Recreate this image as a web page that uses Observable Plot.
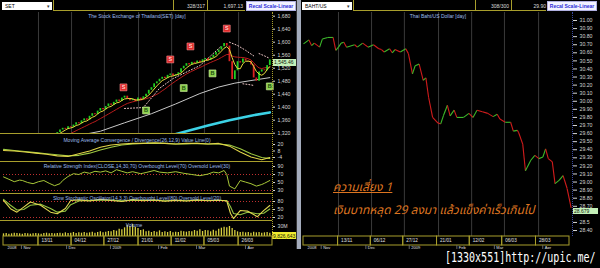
<!DOCTYPE html>
<html><head><meta charset="utf-8">
<script src="https://cdn.jsdelivr.net/npm/d3@7"></script>
<script src="https://cdn.jsdelivr.net/npm/@observablehq/plot@0.6"></script>
<style>
html,body{margin:0;padding:0;background:#000;}
#root{position:relative;width:600px;height:268px;overflow:hidden;background:#000;font-family:"Liberation Sans",Arial,sans-serif;}
#root svg{position:absolute;}
.t{position:absolute;white-space:nowrap;font-size:5px;line-height:6px;}
.box{position:absolute;box-sizing:border-box;}
</style></head><body><div id="root"></div>
<script>
// ---------- DATA ----------
const gridI = [13, 25.3, 37.5, 50.2, 62.5, 74.7, 87.4];
const setDates = ["13/11", "04/12", "27/12", "21/01", "11/02", "05/03", "26/03"];
const bahtDates = ["13/11", "06/12", "27/12", "21/01", "12/02", "06/03", "28/03"];
const monthPos = [1.5, 7.4, 24.2, 40.5, 58.4, 72.5, 90.7];
const monthLbl = ["2008", "Nov", "Dec", "2009", "Feb", "Mar", "Apr"];

const setClose = [1300,1305,1298,1302,1310,1306,1315,1308,1300,1296,
  1290,1285,1292,1288,1295,1302,1300,1310,1316,1312,
  1322,1330,1335,1332,1340,1338,1345,1352,1349,1358,
  1364,1360,1372,1380,1377,1388,1396,1392,1402,1410,
  1406,1415,1422,1418,1428,1434,1426,1420,1424,1418,
  1428,1424,1432,1440,1452,1460,1472,1478,1486,1492,
  1488,1498,1502,1496,1500,1506,1518,1526,1534,1530,
  1538,1535,1542,1538,1546,1550,1544,1552,1560,1568,
  1576,1586,1596,1588,1540,1485,1512,1540,1536,1548,
  1542,1540,1530,1490,1480,1508,1515,1512,1528,1545.46];
const setVolM = [8,9,7,8,10,9,8,7,9,8, 7,8,9,8,7,9,10,8,9,8,
  9,10,8,11,9,10,12,9,11,10, 12,10,11,13,10,12,14,11,13,15,
  14,18,16,22,20,26,34,30,36,28, 24,18,20,14,16,12,15,13,17,12,
  14,12,15,11,13,12,16,14,13,15, 14,18,16,20,15,18,17,14,19,16,
  22,25,28,26,30,24,18,14,12,13, 11,12,10,13,11,12,10,11,12,9.826643];
const priceTicks = [1320,1360,1400,1440,1480,1520,1560,1600,1640,1680];

const grayI = [20,36,45,55,64,73,80,86,92,99];
const grayV = [1300,1326,1352,1380,1410,1442,1462,1474,1482,1491];
const cyanI = [60,68,76,84,92,99];
const cyanV = [1308,1326,1344,1360,1374,1384];
const sarSeg = [1,1,1,1,1,1, 2,2,2,2, 3,3,3, 4,4,4];
const sarI = [45,52,58,63,73,81, 84,87,90,93, 89,91,93, 95,97,99];
const sarV = [1396,1399,1458,1488,1528,1588, 1600,1590,1575,1558, 1472,1470,1467, 1565,1558,1550];
const sigType = ["S","S","S","S","B","B","B","B"];
const sigI = [44.6, 62, 69.5, 83, 53, 67, 77.7, 99];
const sigV = [1461, 1547, 1587, 1642, 1390, 1459, 1504, 1464];

const macdI = [0,4,8,12,16,20,24,28,32,36,40,44,48,52,56,60,64,68,72,76,80,84,88,92,96,99];
const macdV = [9,8,6,4,2,-1,-2,3,8,15,19,21,22,22,23,22,21,22,22,21,22,17,6,-3,-8,-4];
const macdS = [11,9,7,5,3,1,-1,0,4,10,15,19,21,22,22,22,21,21,22,21,21,19,12,3,-4,-6];
const macdTicks = [20, 8, -4];

const rsiI = [0,2,4,6,7,9,11,13,15,17,19,21,22,24,26,28,30,32,34,36,38,40,42,44,46,48,51,53,56,58,61,64,67,70,73,76,78,80,82,83,84,86,88,90,92,94,96,97,99];
const rsiV = [64,58,52,56,55,50,47,52,55,48,42,47,55,65,72,70,76,73,78,76,79,74,82,78,74,77,72,75,80,76,74,77,73,70,67,71,76,74,80,70,41,34,55,51,47,41,45,48,55];
const rsiTicks = [90, 70, 50, 30];

const stI = [0,2.6,5,7.5,10,13.8,17.5,20,23,25,28,32,36,40,44,48,52,56,60,64,68,72,76,80,83,84.4,85.5,88,90.7,94.4,96.7,99];
const stK = [84,53,40,59,78,66,40,34,54,84,86,82,88,84,80,87,83,86,81,85,82,86,83,85,82,35,16,46,44,23,46,65];
const stD = [88,66,48,50,66,70,54,40,44,68,82,84,85,85,83,84,85,84,83,84,83,84,84,84,84,60,35,30,40,34,36,52];
const stTicks = [80, 50, 20];

const bahtDay = [0,2,3,4,6,7,9,11,12,13,14,15,16,19,20,22,24,26,28,29,30,32,33,34,36,38,39,
  40.5,41.5,43,44.5,45.5,46.5,48,50,51,52,53.5,54.5,56,57,59.5,61.5,63,64.5,66.5,68.5,70.5,72,73,75,77,78,79.5,80,81.5,82.5,84.5,86,87.5,89,90,91,92.5,93.5,95,96.5,98,99.5];
const bahtRate = [30.71,30.76,30.69,30.72,30.67,30.77,30.79,30.79,30.63,30.67,30.72,30.73,30.67,30.70,30.67,30.72,30.67,30.70,30.65,30.64,30.61,30.65,30.60,30.64,30.61,30.65,30.59,
  30.34,30.44,30.46,30.26,30.29,30.05,29.80,29.73,29.72,29.82,29.95,29.82,29.89,29.80,29.80,29.85,29.80,29.89,29.87,29.85,29.81,29.84,29.78,29.74,29.74,29.63,29.64,29.61,29.47,29.14,29.27,29.33,29.29,29.31,29.41,29.29,29.25,28.98,29.02,29.08,28.92,28.679];
// 28.60 sits under the current-value label in the reference, so it is not shown
const bahtTicks = [28.4,28.5,28.7,28.8,28.9,29.0,29.1,29.2,29.3,29.4,29.5,29.6,29.7,29.8,29.9,30.0,30.1,30.2,30.3,30.4,30.5,30.6,30.7,30.8,30.9,31.0];

// ---------- HELPERS ----------
const root = document.getElementById("root");
const YEL = "#a89e2c", GRN = "#22cc22", RED = "#dd2222";
function put(el, left, top) { el.style.left = left + "px"; el.style.top = top + "px"; root.appendChild(el); return el; }
function box(left, top, w, h, css) { const d = document.createElement("div"); d.className = "box"; d.style.cssText += `width:${w}px;height:${h}px;` + (css || ""); return put(d, left, top); }
function txt(left, top, s, css) { const d = document.createElement("div"); d.className = "t"; d.textContent = s; d.style.cssText += css || ""; return put(d, left, top); }
const baseStyle = {background: "transparent", color: "#d4d4d4", fontSize: "5.2px", fontFamily: "Liberation Sans, Arial, sans-serif", overflow: "visible"};
function panel(o) {
  const p = Plot.plot({
    width: o.width ?? 297, height: o.height, marginLeft: 3, marginRight: o.mr ?? 25, marginTop: 0, marginBottom: 0,
    x: {domain: [0, 100], axis: null}, y: {domain: o.domain, axis: null},
    style: baseStyle, marks: o.marks
  });
  put(p, o.left ?? 0, o.top);
  return p;
}
const axis = (ticks, fmt, extra) => Plot.axisY(ticks, Object.assign({anchor: "right", tickSize: 2, tickPadding: 3, tickFormat: fmt, label: null, color: "#d4d4d4"}, extra || {}));
const pts = (xs, ys, extra) => xs.map((x, j) => Object.assign({x, y: ys[j]}, extra ? extra(j) : {}));

// ---------- LEFT: SET ----------
const bars = setClose.map((c, i) => ({i, o: i === 0 ? c : setClose[i - 1], c, v: setVolM[i]}));
const sigs = sigType.map((t, j) => ({t, x: sigI[j], y: sigV[j]}));
const sar = pts(sarI, sarV, j => ({s: sarSeg[j]}));
const fmtComma = d3.format(",");

const price = panel({top: 12, height: 121, domain: [1319.1, 1691.4], marks: [
  Plot.ruleX(gridI, {stroke: "#3a3a3a"}),
  Plot.line(pts(cyanI, cyanV), {x: "x", y: "y", stroke: "#3cd2e6", strokeWidth: 2.6, clip: true}),
  Plot.line(pts(grayI, grayV), {x: "x", y: "y", stroke: "#c8c8c8", strokeWidth: 1, clip: true}),
  Plot.lineY(bars, Plot.windowY({k: 12, anchor: "end"}, {x: "i", y: "c", stroke: "#b81c1c", strokeWidth: 1, clip: true})),
  Plot.line(sar, {x: "x", y: "y", z: "s", stroke: "#f0c8c8", strokeDasharray: "1,2", strokeWidth: 1, clip: true}),
  Plot.ruleX(bars, {x: "i", y1: "o", y2: "c", stroke: d => d.c >= d.o ? GRN : RED, strokeWidth: 1.8, clip: true}),
  Plot.lineY(bars, Plot.windowY({k: 4, anchor: "end"}, {x: "i", y: "c", stroke: "#e8dc3c", strokeWidth: 1, clip: true})),
  Plot.dot(sigs, {x: "x", y: "y", symbol: "square", r: 3.9, fill: d => d.t === "S" ? "#e02a2a" : "#8cd24c", stroke: d => d.t === "S" ? "#ff9090" : "#d0f0a0", strokeWidth: 0.6}),
  Plot.text(sigs, {x: "x", y: "y", text: "t", fill: d => d.t === "S" ? "#ffd0d0" : "#1c4a10", fontSize: 5.5, fontWeight: "bold"}),
  axis(priceTicks, d => fmtComma(d))
]});
{
  const y = price.scale("y").apply(setClose[setClose.length - 1]);
  box(273, 12 + y - 0.5, 24, 7, "background:#c4f0b8;");
  txt(274, 12 + y, d3.format(",.2f")(setClose[setClose.length - 1]), "color:#102010;");
}

panel({top: 133, height: 28, domain: [-11.4, 40.3], marks: [
  Plot.line(pts(macdI, macdS), {x: "x", y: "y", stroke: "#9cc840", strokeWidth: 1.1}),
  Plot.line(pts(macdI, macdV), {x: "x", y: "y", stroke: "#e0d448", strokeWidth: 1.1}),
  axis(macdTicks, d => String(d))
]});
panel({top: 161, height: 32, domain: [22.5, 102.5], marks: [
  Plot.ruleY([70, 30], {stroke: "#c03030", strokeDasharray: "1,2"}),
  Plot.line(pts(rsiI, rsiV), {x: "x", y: "y", stroke: "#a8c838", strokeWidth: 1}),
  axis(rsiTicks, d => String(d))
]});
panel({top: 193, height: 27, domain: [8.75, 110], marks: [
  Plot.ruleY([80, 20], {stroke: "#c03030", strokeDasharray: "1,2"}),
  Plot.line(pts(stI, stD), {x: "x", y: "y", stroke: "#90c040", strokeWidth: 1.1}),
  Plot.line(pts(stI, stK), {x: "x", y: "y", stroke: "#e0d850", strokeWidth: 1.1}),
  axis(stTicks, d => String(d))
]});
const vol = panel({top: 220, height: 16, domain: [0, 48], marks: [
  Plot.ruleX(bars, {x: "i", y1: 0, y2: "v", stroke: "#d8d040", strokeWidth: 1.3}),
  axis([30], d => d + "M")
]});
{
  const v = setVolM[setVolM.length - 1];
  const y = vol.scale("y").apply(v);
  box(272, 220 + y - 0.5, 25, 6.5, "background:#f0ec30;");
  txt(273, 220 + y - 0.2, fmtComma(Math.round(v * 1e6)), "color:#202000;");
}

// date bars (shared builder)
function dateBar(left, labels, mr) {
  const cells = [0, ...gridI].map((a, j, arr) => ({a, b: j + 1 < arr.length ? arr[j + 1] : 100, l: j ? labels[j - 1] : ""}));
  panel({left, top: 236, height: 9, mr, domain: [0, 1], marks: [
    Plot.rect(cells, {x1: "a", x2: "b", y1: 0, y2: 1, stroke: YEL, fill: "none"}),
    Plot.text(cells, {x: "a", y: 0.5, text: "l", textAnchor: "start", dx: 3, fill: "#e0e0e0", fontSize: 4.6})
  ]});
  panel({left, top: 245, height: 4, mr, domain: [0, 1], marks: [
    Plot.ruleX(monthPos.slice(1), {dx: -2, stroke: "#666"}),
    Plot.text(monthLbl, {x: (d, j) => monthPos[j], y: 0.5, text: d => d, textAnchor: "start", fill: "#e0e0e0", fontSize: 4})
  ]});
}
dateBar(0, setDates, 25);

// left chrome
[133, 161, 193, 220].forEach(y => box(0, y, 272, 1, "background:" + YEL + ";"));
box(272, 12, 1, 224, "border-left:1px dotted #a89e2c;");
box(2, 2, 50, 8, "background:#fff;");
txt(5, 3, "SET", "color:#000;");
txt(47, 3, "▾", "color:#333;");
box(53, -1, 192, 12, "border-left:1px solid " + YEL + ";border-bottom:1px solid " + YEL + ";");
box(173, -1, 1, 12, "background:" + YEL + ";");
box(207, -1, 1, 12, "background:" + YEL + ";");
txt(175, 3, "328/317", "width:30px;text-align:right;color:#ddd;");
txt(209, 3, "1,697.13", "width:34px;text-align:right;color:#ddd;");
box(246, 1, 50, 10, "background:#f2f2ff;border:1px solid #b0b0e0;");
txt(246, 3, "Recal Scale-Linear", "width:50px;text-align:center;color:#2a2ad8;font-weight:bold;");
const TC = "color:#9cbcec;text-align:center;";
txt(37, 13, "The Stock Exchange of Thailand(SET) [day]", TC + "width:200px;");
txt(0, 137, "Moving Average Convergence / Divergence(26,12,9) Value Line(0)", TC + "width:274px;");
txt(0, 163, "Relative Strength Index(CLOSE,14,30,70) Overbought Level(70) Oversold Level(30)", TC + "width:274px;");
txt(0, 195, "Slow Stochastic Oscillator(14,3,3) Overbought Level(80) Oversold Level(20)", TC + "width:274px;");
txt(124, 222, "Volume", TC + "width:20px;");

// separator
box(296, 0, 1, 249, "background:#333;");
box(297, 0, 4, 249, "background:#a4acbc;");

// ---------- RIGHT: BAHT ----------
const segs = bahtDay.slice(1).map((d, j) => ({x1: bahtDay[j], y1: bahtRate[j], x2: d, y2: bahtRate[j + 1]}));
const baht = panel({left: 300, top: 12, width: 300, mr: 28, height: 224, domain: [28.326, 31.099], marks: [
  Plot.ruleX(gridI, {stroke: "#3a3a3a"}),
  Plot.link(segs, {x1: "x1", y1: "y1", x2: "x2", y2: "y2", stroke: d => d.y2 >= d.y1 ? "#3cb82a" : "#d01c1c", strokeWidth: 1.1}),
  axis(bahtTicks, d => d === 28.5 ? "28.5" : d.toFixed(2), {tickSize: 4, tickPadding: 3})
]});
{
  const v = bahtRate[bahtRate.length - 1];
  const y = baht.scale("y").apply(v);
  box(573, 12 + y + 0.5, 25, 6.5, "background:#c4f0b8;");
  txt(574, 12 + y + 1, String(v), "color:#102010;");
}
dateBar(300, bahtDates, 28);
box(572, 12, 1, 224, "border-left:1px dotted #3848a0;");
box(302, 2, 50, 8, "background:#fff;");
txt(305, 3, "BAHT/US", "color:#000;");
txt(347, 3, "▾", "color:#333;");
box(353, -1, 193, 12, "border-left:1px solid " + YEL + ";border-bottom:1px solid " + YEL + ";");
box(475, -1, 1, 12, "background:" + YEL + ";");
box(511, -1, 1, 12, "background:" + YEL + ";");
txt(478, 3, "308/300", "width:31px;text-align:right;color:#ddd;");
txt(513, 3, "29.90", "width:33px;text-align:right;color:#ddd;");
box(547, 1, 50, 10, "background:#f2f2ff;border:1px solid #b0b0e0;");
txt(547, 3, "Recal Scale-Linear", "width:50px;text-align:center;color:#2a2ad8;font-weight:bold;");
txt(338, 13, "Thai Baht/US Dollar [day]", TC + "width:200px;");

// annotations
const TH = "font-family:'Noto Sans Thai','Noto Sans','DejaVu Sans',sans-serif;font-style:italic;color:#dc7420;font-size:12px;line-height:14px;";
txt(333, 180, "ความเสี่ยง 1", TH + "text-decoration:underline;");
txt(333, 203, "เงินบาทหลุด 29 ลงมา แล้วแข็งค่าเร็วเกินไป", TH);

// footer
box(0, 249, 600, 19, "background:#000;");
txt(445, 250, "[1330x551]http://upic.me/", "font-family:'DejaVu Sans Mono',monospace;font-size:10px;line-height:10px;color:#fff;transform:scaleY(1.45);transform-origin:0 0;");
</script></body></html>
